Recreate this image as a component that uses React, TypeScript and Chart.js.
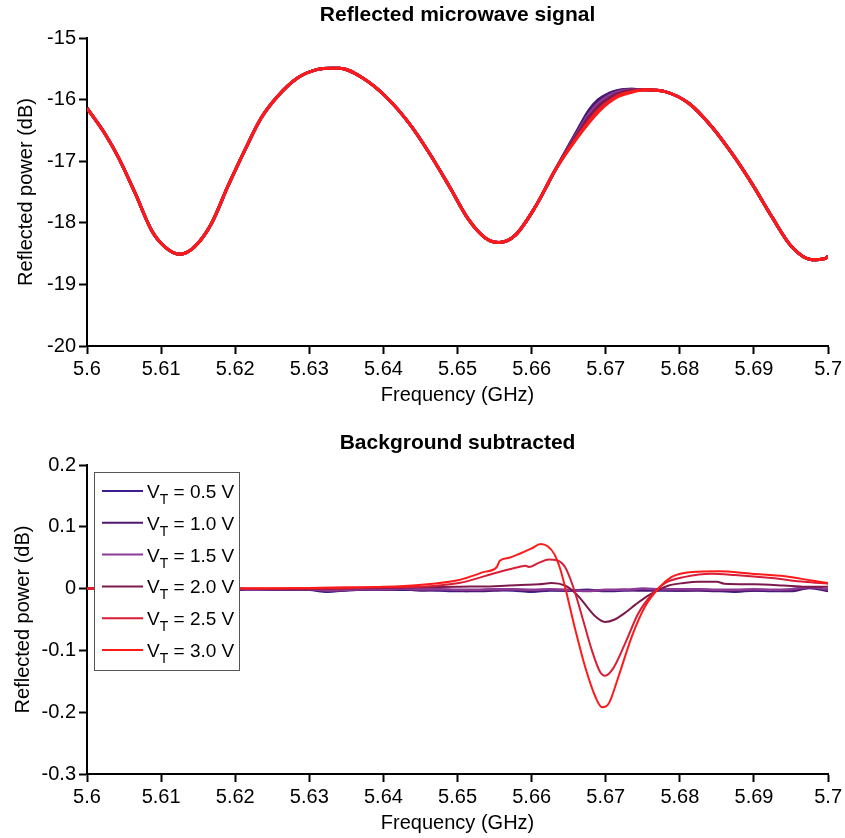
import React, { useEffect, useRef } from "react";
import { Chart, registerables } from "chart.js";

Chart.register(...registerables);

const FONT = "Arial, 'Liberation Sans', Helvetica, sans-serif";

// ---- legend / series meta ----
const voltageLabels = ["0.5", "1.0", "1.5", "2.0", "2.5", "3.0"];
const seriesColors = ["#3d1e8c", "#4e1870", "#8b3a96", "#7c1a4c", "#d81e36", "#ff1a1a"];

// ---- axis ticks ----
const xTickValues = [5.6, 5.61, 5.62, 5.63, 5.64, 5.65, 5.66, 5.67, 5.68, 5.69, 5.7];
const topYTicks = [-15, -16, -17, -18, -19, -20];
const bottomYTicks = [0.2, 0.1, 0, -0.1, -0.2, -0.3];

// ---- top chart: reflected signal (shared part, GHz / dB) ----
const topFreq = [
  5.6, 5.6024, 5.6042, 5.6065, 5.6087, 5.6105, 5.6125, 5.6145, 5.6168, 5.619,
  5.6213, 5.6235, 5.6257, 5.6284, 5.6311, 5.6329, 5.6341, 5.6372, 5.6403, 5.6435,
  5.6462, 5.6489, 5.6515, 5.6538, 5.6556, 5.6578, 5.6605, 5.6632,
  5.6753, 5.678, 5.6812, 5.6843, 5.687, 5.6897, 5.6924, 5.6951, 5.6978, 5.6996, 5.7,
];
const topPower = [
  -16.14, -16.55, -16.93, -17.52, -18.12, -18.39, -18.51, -18.39, -18.01, -17.41,
  -16.82, -16.3, -15.95, -15.65, -15.51, -15.49, -15.49, -15.65, -15.95, -16.39,
  -16.87, -17.41, -17.95, -18.25, -18.32, -18.2, -17.74, -17.14,
  -15.84, -15.87, -16.06, -16.44, -16.87, -17.36, -17.9, -18.39, -18.6, -18.58, -18.54,
];
// region where the voltages differ
const topRegionFreq = [5.6664, 5.6677, 5.669, 5.6704, 5.6717, 5.6735];
const topV05 = [-16.45, -16.18, -16.0, -15.9, -15.85, -15.83];
const topV10 = [-16.46, -16.19, -16.01, -15.91, -15.85, -15.83];
const topV15 = [-16.49, -16.24, -16.06, -15.94, -15.87, -15.84];
const topV20 = [-16.52, -16.29, -16.11, -15.98, -15.9, -15.85];
const topV25 = [-16.56, -16.35, -16.17, -16.03, -15.93, -15.87];
const topV30 = [-16.58, -16.38, -16.2, -16.05, -15.95, -15.88];

// ---- bottom chart: background subtracted ----
const flatFreq = [
  5.6, 5.6025, 5.605, 5.6075, 5.61, 5.6125, 5.615, 5.6175, 5.62, 5.6225, 5.625,
  5.6275, 5.63, 5.6325, 5.635, 5.6375, 5.64, 5.6425, 5.645, 5.6475, 5.65, 5.6525,
  5.655, 5.6575, 5.66, 5.6625, 5.665, 5.6675, 5.67, 5.6725, 5.675, 5.6775, 5.68,
  5.6825, 5.685, 5.6875, 5.69, 5.6925, 5.695, 5.6975, 5.7,
];
const bgV05 = [
  0.0, -0.001, 0.0, -0.002, -0.001, 0.0, -0.001, -0.002, -0.001, -0.001, -0.002,
  -0.001, -0.002, -0.005, -0.002, -0.002, -0.001, -0.002, -0.002, -0.003, -0.004, -0.003,
  -0.002, -0.003, -0.005, -0.003, -0.003, -0.002, -0.004, -0.003, -0.002, -0.003, -0.003,
  -0.002, -0.003, -0.005, -0.003, -0.004, -0.003, 0.002, -0.003,
];
const bgV10 = [
  0.0, 0.0, -0.001, -0.001, -0.002, -0.001, 0.0, -0.001, -0.002, -0.001, -0.001,
  -0.002, -0.001, -0.004, -0.003, -0.001, -0.002, -0.001, -0.003, -0.002, -0.003, -0.004,
  -0.003, -0.002, -0.004, -0.002, -0.003, -0.003, -0.003, -0.002, -0.003, -0.002, -0.003,
  -0.003, -0.004, -0.004, -0.003, -0.003, -0.004, 0.001, -0.004,
];
const bgV15 = [
  0.0, 0.0, 0.0, -0.001, -0.001, 0.0, -0.001, -0.001, 0.0, -0.001, -0.001,
  -0.001, -0.001, -0.003, -0.002, -0.001, -0.001, 0.0, -0.001, -0.001, -0.002, -0.002,
  -0.001, -0.001, -0.002, -0.001, -0.002, -0.004, -0.002, -0.002, 0.0, -0.001, -0.001,
  -0.001, -0.002, -0.002, -0.001, -0.002, -0.001, 0.002, -0.001,
];
const bgF20 = [
  5.6, 5.61, 5.62, 5.63, 5.635, 5.64, 5.645, 5.65, 5.655, 5.6585, 5.661, 5.6627,
  5.6645, 5.6655, 5.6665, 5.6675, 5.6685, 5.6699, 5.6712, 5.6725, 5.674, 5.6755,
  5.677, 5.6785, 5.6805, 5.6825, 5.685, 5.686, 5.69, 5.694, 5.697, 5.7,
];
const bgV20 = [
  0.0, -0.001, 0.0, -0.001, 0.0, 0.001, 0.002, 0.003, 0.004, 0.006, 0.007, 0.009,
  0.005, -0.003, -0.015, -0.03, -0.044, -0.054, -0.05, -0.04, -0.026, -0.013,
  -0.003, 0.005, 0.009, 0.011, 0.011, 0.008, 0.007, 0.005, 0.003, 0.003,
];
const bgF25 = [
  5.6, 5.61, 5.62, 5.63, 5.64, 5.6448, 5.6502, 5.6556, 5.6583, 5.6592, 5.6596,
  5.661, 5.6623, 5.6634, 5.6645, 5.6656, 5.6668, 5.6681, 5.6692, 5.6699, 5.671,
  5.6726, 5.6744, 5.6762, 5.678, 5.6807, 5.6843, 5.6874, 5.6924, 5.6968, 5.7,
];
const bgV25 = [
  0.0, 0.0, 0.0, 0.0, 0.002, 0.003, 0.009, 0.027, 0.035, 0.037, 0.035,
  0.042, 0.047, 0.046, 0.035, 0.003, -0.045, -0.099, -0.134, -0.141, -0.129,
  -0.089, -0.04, -0.01, 0.009, 0.019, 0.024, 0.022, 0.017, 0.011, 0.008,
];
const bgF30 = [
  5.6, 5.61, 5.62, 5.63, 5.635, 5.64, 5.6448, 5.6502, 5.6536, 5.6553, 5.6557,
  5.657, 5.6583, 5.66, 5.6612, 5.6622, 5.6631, 5.6639, 5.6646, 5.6659, 5.6672,
  5.6686, 5.6695, 5.6704, 5.6717, 5.6735, 5.6753, 5.6771, 5.6789, 5.6816, 5.6852,
  5.6897, 5.6942, 5.6978, 5.7,
];
const bgV30 = [
  0.0, 0.0, 0.0, 0.001, 0.002, 0.003, 0.006, 0.014, 0.027, 0.035, 0.045,
  0.05, 0.056, 0.065, 0.072, 0.068, 0.055, 0.03, -0.002, -0.067, -0.126,
  -0.175, -0.192, -0.186, -0.143, -0.078, -0.029, 0.0, 0.019, 0.027, 0.028,
  0.024, 0.02, 0.013, 0.009,
];

function topSeries(region: number[]) {
  const pts: { x: number; y: number }[] = [];
  const first = topRegionFreq[0];
  const last = topRegionFreq[topRegionFreq.length - 1];
  topFreq.forEach((f, i) => { if (f < first) pts.push({ x: f, y: topPower[i] }); });
  topRegionFreq.forEach((f, i) => pts.push({ x: f, y: region[i] }));
  topFreq.forEach((f, i) => { if (f > last) pts.push({ x: f, y: topPower[i] }); });
  return pts;
}
function zip(xs: number[], ys: number[]) {
  return xs.map((x, i) => ({ x, y: ys[i] }));
}

function makeAxis(opts: {
  min: number; max: number; ticks: number[]; title: string;
  titlePad: any; size: number; horizontal: boolean; fmt: (v: number) => string;
}) {
  return {
    type: "linear",
    min: opts.min,
    max: opts.max,
    afterBuildTicks: (s: any) => { s.ticks = opts.ticks.map((v) => ({ value: v })); },
    afterFit: (s: any) => {
      if (opts.horizontal) s.height = opts.size; else s.width = opts.size;
    },
    grid: {
      display: true, drawOnChartArea: false, drawTicks: true,
      tickLength: 8, tickWidth: 2, tickColor: "#000",
    },
    border: { display: true, color: "#000", width: 2 },
    ticks: {
      color: "#000", font: { family: FONT, size: 20 }, padding: 3,
      autoSkip: false, maxRotation: 0, minRotation: 0,
      callback: (v: any) => opts.fmt(Number(v)),
    },
    title: {
      display: true, text: opts.title, color: "#000",
      font: { family: FONT, size: 20 }, padding: opts.titlePad,
    },
  };
}

const fmtX = (v: number) => String(parseFloat(v.toFixed(2)));
const fmtTop = (v: number) => String(Math.round(v));
const fmtBot = (v: number) => String(parseFloat(v.toFixed(1)));

const legendPlugin = {
  id: "vtLegend",
  afterDraw(chart: any) {
    const { ctx, chartArea } = chart;
    const x0 = chartArea.left + 7;
    const y0 = chartArea.top + 7;
    const w = 145;
    const h = 198;
    ctx.save();
    ctx.fillStyle = "#fff";
    ctx.fillRect(x0, y0, w, h);
    ctx.strokeStyle = "#555";
    ctx.lineWidth = 1;
    ctx.strokeRect(x0 + 0.5, y0 + 0.5, w, h);
    chart.data.datasets.forEach((ds: any, i: number) => {
      const cy = y0 + 19 + i * 31.8;
      ctx.strokeStyle = ds.borderColor;
      ctx.lineWidth = 2;
      ctx.beginPath();
      ctx.moveTo(x0 + 8, cy);
      ctx.lineTo(x0 + 49, cy);
      ctx.stroke();
      ctx.fillStyle = "#000";
      ctx.textBaseline = "alphabetic";
      ctx.textAlign = "left";
      let tx = x0 + 53;
      const base = cy + 7;
      ctx.font = `19px ${FONT}`;
      ctx.fillText("V", tx, base);
      tx += ctx.measureText("V").width;
      ctx.font = `14px ${FONT}`;
      ctx.fillText("T", tx, base + 6);
      tx += ctx.measureText("T").width;
      ctx.font = `19px ${FONT}`;
      ctx.fillText(` = ${voltageLabels[i]} V`, tx, base);
    });
    ctx.restore();
  },
};

export default function App() {
  const topRef = useRef<HTMLCanvasElement>(null);
  const botRef = useRef<HTMLCanvasElement>(null);

  useEffect(() => {
    const topData = [topV05, topV10, topV15, topV20, topV25, topV30];
    const top = new Chart(topRef.current as HTMLCanvasElement, {
      type: "line",
      data: {
        datasets: topData.map((r, i) => ({
          label: `VT = ${voltageLabels[i]} V`,
          data: topSeries(r),
          borderColor: seriesColors[i],
          borderWidth: 3,
          pointRadius: 0,
          order: 5 - i,
          cubicInterpolationMode: "monotone",
          fill: false,
        })),
      },
      options: {
        responsive: false,
        animation: false,
        devicePixelRatio: 1,
        layout: { padding: { left: 0, right: 15, top: 0, bottom: 0 } },
        plugins: {
          legend: { display: false },
          tooltip: { enabled: false },
          title: {
            display: true, text: "Reflected microwave signal", fullSize: false,
            color: "#000", font: { family: FONT, size: 21, weight: "bold" },
            padding: { top: 3, bottom: 9.8 },
          },
        },
        scales: {
          x: makeAxis({ min: 5.6, max: 5.7, ticks: xTickValues, title: "Frequency (GHz)",
            titlePad: { top: 0, bottom: 13 }, size: 74, horizontal: true, fmt: fmtX }),
          y: makeAxis({ min: -20, max: -15, ticks: topYTicks, title: "Reflected power (dB)",
            titlePad: { top: 14, bottom: 0 }, size: 87, horizontal: false, fmt: fmtTop }),
        },
      } as any,
    });

    const botX = [flatFreq, flatFreq, flatFreq, bgF20, bgF25, bgF30];
    const botY = [bgV05, bgV10, bgV15, bgV20, bgV25, bgV30];
    const bot = new Chart(botRef.current as HTMLCanvasElement, {
      type: "line",
      data: {
        datasets: botY.map((ys, i) => ({
          label: `VT = ${voltageLabels[i]} V`,
          data: zip(botX[i], ys),
          borderColor: seriesColors[i],
          borderWidth: i < 3 ? 2.5 : 2,
          pointRadius: 0,
          order: 5 - i,
          cubicInterpolationMode: "monotone",
          fill: false,
        })),
      },
      options: {
        responsive: false,
        animation: false,
        devicePixelRatio: 1,
        layout: { padding: { left: 0, right: 15, top: 0, bottom: 0 } },
        plugins: {
          legend: { display: false },
          tooltip: { enabled: false },
          title: {
            display: true, text: "Background subtracted", fullSize: false,
            color: "#000", font: { family: FONT, size: 21, weight: "bold" },
            padding: { top: 10.4, bottom: 9.4 },
          },
        },
        scales: {
          x: makeAxis({ min: 5.6, max: 5.7, ticks: xTickValues, title: "Frequency (GHz)",
            titlePad: { top: 0, bottom: 3 }, size: 64, horizontal: true, fmt: fmtX }),
          y: makeAxis({ min: -0.3, max: 0.2, ticks: bottomYTicks, title: "Reflected power (dB)",
            titlePad: { top: 11, bottom: 0 }, size: 87, horizontal: false, fmt: fmtBot }),
        },
      } as any,
      plugins: [legendPlugin],
    });

    return () => {
      top.destroy();
      bot.destroy();
    };
  }, []);

  return (
    <div style={{ position: "absolute", left: 0, top: 0, width: 845, height: 838, background: "#fff" }}>
      <canvas ref={topRef} width={845} height={420} style={{ display: "block", width: 845, height: 420 }} />
      <canvas ref={botRef} width={845} height={418} style={{ display: "block", width: 845, height: 418 }} />
    </div>
  );
}
